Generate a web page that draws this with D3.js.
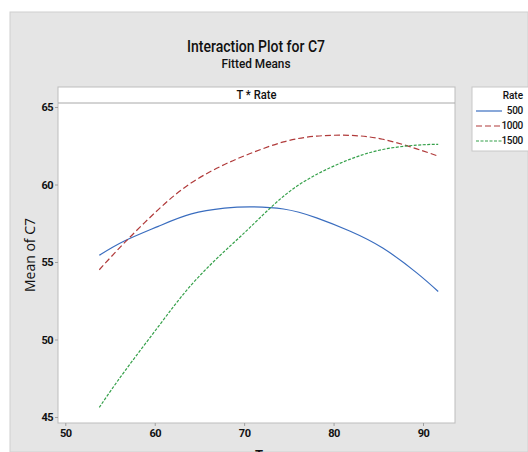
<!DOCTYPE html>
<html>
<head>
<meta charset="utf-8">
<script src="https://cdn.jsdelivr.net/npm/d3@7"></script>
<style>
  body { margin: 0; background: #fff; }
  text { font-family: "Roboto", sans-serif; fill: #111; }
</style>
</head>
<body>
<div id="chart"></div>
<script>
// fitted means
const rates = ['500', '1000', '1500'];
const tVals = [53.8, 56.6, 60.4, 64.1, 67.8, 70.6, 74.4, 78.1, 81.8, 85.5, 89.3, 91.7];
const mean500 = [55.43, 56.35, 57.3, 58.1, 58.47, 58.56, 58.42, 57.85, 57.0, 55.9, 54.3, 53.1];
const mean1000 = [54.5, 56.23, 58.38, 60.11, 61.29, 61.98, 62.75, 63.12, 63.17, 62.92, 62.3, 61.83];
const mean1500 = [45.62, 47.92, 50.83, 53.53, 55.69, 57.2, 59.24, 60.65, 61.62, 62.26, 62.54, 62.59];
const xTicks = [50, 60, 70, 80, 90];
const yTicks = [45, 50, 55, 60, 65];

const W = 528, H = 452;
const panel = { left: 58, top: 87, right: 455, bottom: 423, strip: 16 };

const svg = d3.select('#chart').append('svg')
    .attr('width', W)
    .attr('height', H);

// grey figure background
svg.append('rect')
    .attr('x', 10).attr('y', 12)
    .attr('width', W - 10).attr('height', H - 12)
    .attr('fill', '#e5e5e5')
    .attr('stroke', '#d0d0d0');

svg.append('text')
    .attr('x', 256).attr('y', 52)
    .attr('text-anchor', 'middle')
    .attr('textLength', 138)
    .attr('lengthAdjust', 'spacingAndGlyphs')
    .style('font-size', '17px')
    .style('font-weight', 500)
    .text('Interaction Plot for C7');

svg.append('text')
    .attr('x', 256).attr('y', 68)
    .attr('text-anchor', 'middle')
    .attr('textLength', 69)
    .attr('lengthAdjust', 'spacingAndGlyphs')
    .style('font-size', '12px')
    .style('font-weight', 500)
    .text('Fitted Means');

const xScale = d3.scaleLinear().domain([50, 90]).range([65.3, 423]);
const yScale = d3.scaleLinear().domain([45, 65]).range([417, 107]);

// panel + strip
svg.append('rect')
    .attr('x', panel.left).attr('y', panel.top)
    .attr('width', panel.right - panel.left).attr('height', panel.bottom - panel.top)
    .attr('fill', '#fff')
    .attr('stroke', '#bdbdbd');

svg.append('line')
    .attr('x1', panel.left).attr('x2', panel.right)
    .attr('y1', panel.top + panel.strip).attr('y2', panel.top + panel.strip)
    .attr('stroke', '#a8a8a8');

svg.append('text')
    .attr('x', (panel.left + panel.right) / 2).attr('y', panel.top + 12)
    .attr('text-anchor', 'middle')
    .attr('textLength', 40)
    .attr('lengthAdjust', 'spacingAndGlyphs')
    .style('font-size', '12px')
    .style('font-weight', 500)
    .text('T * Rate');

// axes
const xAxis = svg.append('g')
    .attr('transform', `translate(0,${panel.bottom})`)
    .call(d3.axisBottom(xScale).tickValues(xTicks).tickSize(3).tickPadding(3));
const yAxis = svg.append('g')
    .attr('transform', `translate(${panel.left},0)`)
    .call(d3.axisLeft(yScale).tickValues(yTicks).tickSize(3).tickPadding(2));

[xAxis, yAxis].forEach(ax => {
    ax.select('.domain').remove();
    ax.selectAll('line').attr('stroke', '#a0a0a0');
    ax.selectAll('text')
        .style('font-size', '11px')
        .style('font-weight', 'bold')
        .style('font-family', '"Roboto", sans-serif')
        .style('letter-spacing', '-0.5px')
        .attr('fill', '#111');
});

svg.append('text')
    .attr('transform', 'translate(35,255) rotate(-90)')
    .attr('text-anchor', 'middle')
    .style('font-size', '14px')
    .style('font-family', '"Open Sans", sans-serif')
    .text('Mean of C7');

svg.append('text')
    .attr('x', 259).attr('y', 459)
    .attr('text-anchor', 'middle')
    .style('font-size', '13px')
    .style('font-weight', 'bold')
    .text('T');

// lines
const series = [
    { name: rates[0], vals: mean500, color: '#3a6dbf', dash: null },
    { name: rates[1], vals: mean1000, color: '#b03a3a', dash: '6,3' },
    { name: rates[2], vals: mean1500, color: '#35a04a', dash: '3,1.5' }
];

const line = d3.line()
    .x(d => xScale(d[0]))
    .y(d => yScale(d[1]))
    .curve(d3.curveNatural);

series.forEach(s => {
    svg.append('path')
        .datum(tVals.map((t, i) => [t, s.vals[i]]))
        .attr('d', line)
        .attr('fill', 'none')
        .attr('stroke', s.color)
        .attr('stroke-width', 1.2)
        .attr('stroke-dasharray', s.dash);
});

// legend
const legend = svg.append('g').attr('transform', 'translate(472,87)');
legend.append('rect')
    .attr('width', 70).attr('height', 64)
    .attr('fill', '#fff')
    .attr('stroke', '#c8c8c8');
legend.append('text')
    .attr('x', 51).attr('y', 12)
    .attr('text-anchor', 'end')
    .style('font-size', '10px')
    .style('font-weight', 500)
    .text('Rate');
series.forEach((s, i) => {
    const y = 27 + i * 15;
    legend.append('line')
        .attr('x1', 4).attr('x2', 30)
        .attr('y1', y - 3).attr('y2', y - 3)
        .attr('stroke', s.color)
        .attr('stroke-width', 1.2)
        .attr('stroke-dasharray', s.dash);
    legend.append('text')
        .attr('x', 51).attr('y', y)
        .attr('text-anchor', 'end')
        .style('font-size', '10px')
        .style('font-weight', 500)
        .style('letter-spacing', '-0.3px')
        .text(s.name);
});
</script>
</body>
</html>
